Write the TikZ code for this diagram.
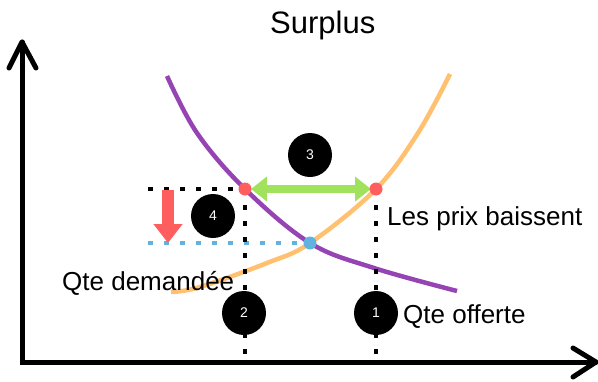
\documentclass[tikz,border=0pt]{standalone}
\usepackage{fontspec}
\setmainfont{Liberation Sans}
\usetikzlibrary{arrows.meta}
\definecolor{dpurple}{RGB}{150,68,180}
\definecolor{sorange}{RGB}{255,192,112}
\definecolor{agreen}{RGB}{160,226,92}
\definecolor{pred}{RGB}{255,94,94}
\definecolor{pblue}{RGB}{98,178,224}
\begin{document}
\begin{tikzpicture}[x=1pt,y=-1pt,
  num/.style={circle, fill=black, minimum size=44pt, inner sep=0pt, text=white, font=\fontsize{14}{14}\selectfont},
  lbl/.style={inner sep=0pt, anchor=base west, font=\fontsize{26}{30}\selectfont},
  dotline/.style={line width=4.5pt, dash pattern=on 4.5pt off 11.5pt},
  pt/.style={circle, inner sep=0pt, minimum size=13pt},
  axis/.style={line width=5pt, line cap=round, line join=round}]
\useasboundingbox (0,0) rectangle (598,381);
% axes
\coordinate (ytip) at (22,42);
\coordinate (origin) at (22,362);
\coordinate (xtip) at (596,362);
\draw[axis, line join=miter] (ytip) -- (origin) -- (xtip);
\draw[axis] (9,68) -- (ytip) -- (36,68);
\draw[axis] (573,348) -- (xtip) -- (573,377);
% title
\node[lbl, font=\fontsize{31}{34}\selectfont] (title) at (270,33) {Surplus};
% curves
\draw[sorange, line width=4.5pt] plot[smooth, tension=0.6] coordinates {(450,74) (418,133) (376,189) (310,243) (267,263) (200,287) (171,292)};
\draw[dpurple, line width=4.5pt] plot[smooth, tension=0.6] coordinates {(167,76) (197,133) (245,189) (310,243) (374,268) (457,291)};
% points
\coordinate (A) at (245,189);
\coordinate (B) at (376,189);
\coordinate (E) at (310,243);
\coordinate (hl) at (148,189);
\coordinate (bl) at (148,243);
\coordinate (ax2) at (245,364);
\coordinate (ax1) at (376,364);
% dotted lines
\draw[dotline, black] (hl) -- (A);
\draw[dotline, pblue] (bl) -- (E);
\draw[dotline, black] (A) -- (ax2);
\draw[dotline, black] (B) -- (ax1);
% arrows
\coordinate (gl) at (251,189);
\coordinate (gr) at (371,189);
\draw[agreen, line width=8pt, {Triangle[width=24pt,length=16pt]}-{Triangle[width=24pt,length=16pt]}] (gl) -- (gr);
\coordinate (rt) at (168,190);
\coordinate (rb) at (168,243);
\draw[pred, line width=12pt, -{Triangle[width=28pt,length=19pt]}] (rt) -- (rb);
% dots
\node[pt, fill=pred] (pa) at (A) {};
\node[pt, fill=pred] (pb) at (B) {};
\node[pt, fill=pblue] (pe) at (E) {};
% numbered circles
\node[num] (n3) at (310,155) {3};
\node[num] (n4) at (213,216) {4};
\node[num] (n2) at (244,313) {2};
\node[num] (n1) at (376,313) {1};
% labels
\node[lbl] (lp) at (387,225) {Les prix baissent};
\node[lbl] (ld) at (62,290) {Qte demandée};
\node[lbl] (lo) at (403,323) {Qte offerte};
\end{tikzpicture}
\end{document}
